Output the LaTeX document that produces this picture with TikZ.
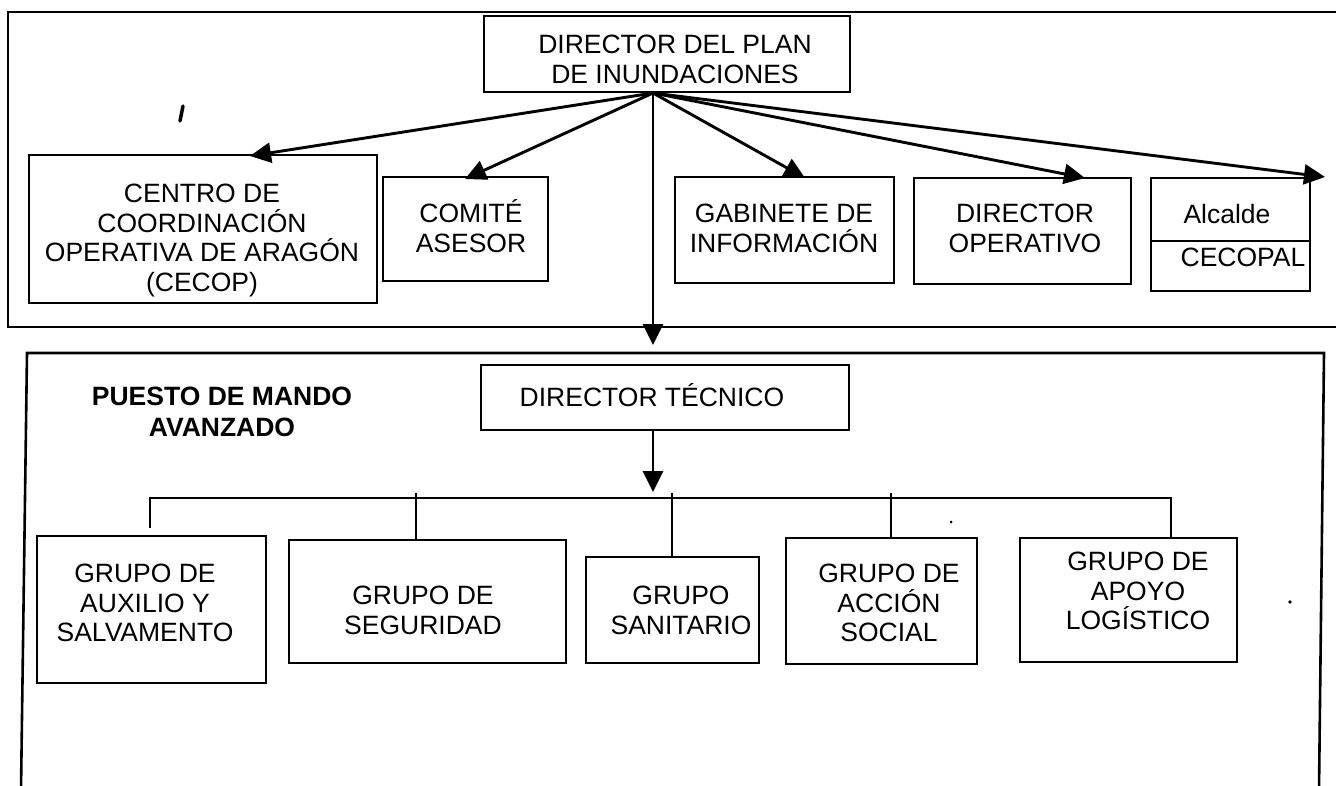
\documentclass[tikz,border=0pt]{standalone}
\usepackage{fontspec}
\setmainfont{Liberation Sans}
\usetikzlibrary{arrows.meta,calc}
\begin{document}
\begin{tikzpicture}[x=1pt,y=-1pt,
  box/.style={draw, line width=2.4pt, rectangle, inner sep=0pt, outer sep=0pt},
  txt/.style={font=\fontsize{26.5}{29.5}\selectfont, align=center, anchor=base, inner sep=0pt},
  conn/.style={line width=2.9pt, -{Triangle[length=21pt,width=20pt]}},
  ln/.style={line width=2.6pt},
  framel/.style={line width=2.6pt}]
\useasboundingbox (0,0) rectangle (1336,785);
% frames
\draw[framel] (1340,12) -- (8,12) -- (8,327) -- (1340,327);
\draw[framel] (21,790) -- (27,353) -- (1324,353) -- (1319,790);
% top boxes
\node[box, minimum width=366pt, minimum height=76pt] (dirplan) at (667,54) {};
\node[txt] (dirplant) at (675,83) {DIRECTOR DEL PLAN\\DE INUNDACIONES};
\node[box, minimum width=348pt, minimum height=148pt] (cecop) at (203,229) {};
\node[txt] (cecopt) at (202,291) {CENTRO DE\\COORDINACIÓN\\OPERATIVA DE ARAGÓN\\(CECOP)};
\node[box, minimum width=165pt, minimum height=104pt] (comite) at (465.5,229) {};
\node[txt] (comitet) at (471,252) {COMITÉ\\ASESOR};
\node[box, minimum width=219pt, minimum height=106pt] (gabinete) at (784.5,230) {};
\node[txt] (gabinetet) at (784,252) {GABINETE DE\\INFORMACIÓN};
\node[box, minimum width=217pt, minimum height=106pt] (dirop) at (1022.5,231) {};
\node[txt] (diropt) at (1025,252) {DIRECTOR\\OPERATIVO};
\node[box, minimum width=159pt, minimum height=113pt] (alcalde) at (1230.5,234.5) {};
\node[txt] (alcaldet) at (1227,223.5) {Alcalde};
\node[txt] (cecopalt) at (1243,266.5) {CECOPAL};
\draw[ln] ($(alcalde.north west)+(0,63)$) -- ($(alcalde.north east)+(0,63)$);
% stray mark
\draw[line width=3.5pt, line cap=round] (180,121) -- (183,106);
% arrows from director
\coordinate (o) at (653,93);
\coordinate (t1) at (250,156);
\coordinate (t2) at (465,179);
\coordinate (t3) at (805,178);
\coordinate (t4) at (1085,178);
\coordinate (t5) at (1325,177);
\coordinate (t6) at (653,345);
\draw[conn] (o) -- (t1);
\draw[conn] (o) -- (t2);
\draw[conn] (o) -- (t3);
\draw[conn] (o) -- (t4);
\draw[conn] (o) -- (t5);
\draw[conn] (o) -- (t6);
% lower part
\node[txt, font=\fontsize{26.5}{31}\selectfont\bfseries] (puesto) at (222,436) {PUESTO DE MANDO\\AVANZADO};
\node[box, minimum width=368pt, minimum height=65pt] (tecnico) at (665,397.5) {};
\node[txt] (tecnicot) at (652,406.5) {DIRECTOR TÉCNICO};
\coordinate (bt) at (653,492);
\draw[conn] (o |- tecnico.south) -- (bt);
% groups
\node[box, minimum width=229pt, minimum height=147pt] (auxilio) at (151.5,609.5) {};
\node[txt] (auxiliot) at (145,641.5) {GRUPO DE\\AUXILIO Y\\SALVAMENTO};
\node[box, minimum width=277pt, minimum height=123pt] (seguridad) at (427.5,601.5) {};
\node[txt] (seguridadt) at (423,634) {GRUPO DE\\SEGURIDAD};
\node[box, minimum width=173pt, minimum height=106pt] (sanitario) at (672.5,610) {};
\node[txt] (sanitariot) at (681,634) {GRUPO\\SANITARIO};
\node[box, minimum width=191pt, minimum height=126pt] (accion) at (881.5,601) {};
\node[txt] (acciont) at (889,641.5) {GRUPO DE\\ACCIÓN\\SOCIAL};
\node[box, minimum width=217pt, minimum height=124pt] (apoyo) at (1128.5,600) {};
\node[txt] (apoyot) at (1138,629.5) {GRUPO DE\\APOYO\\LOGÍSTICO};
% bus
\coordinate (a1) at (150,528);
\coordinate (j1) at (150,498);
\coordinate (j5) at (1171,498);
\coordinate (k2) at (416,493);
\coordinate (k3) at (672,493);
\coordinate (k4) at (891,493);
\draw[ln] (a1) -- (j1) -- (j5) -- (j5 |- apoyo.north);
\draw[ln] (k2) -- (k2 |- seguridad.north);
\draw[ln] (k3) -- (k3 |- sanitario.north);
\draw[ln] (k4) -- (k4 |- accion.north);
% specks
\fill (1290,602) circle (1.8pt);
\fill (951,522) circle (1.5pt);
\end{tikzpicture}
\end{document}
